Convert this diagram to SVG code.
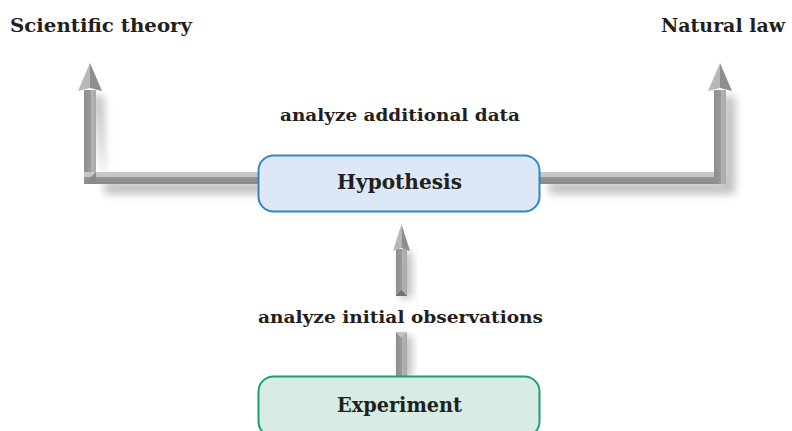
<svg xmlns="http://www.w3.org/2000/svg" width="792" height="431" viewBox="0 0 792 431">
<defs>
<style>
.lbl{font-family:"DejaVu Serif","Liberation Serif",serif;font-weight:bold;fill:#231f20}
.top{font-size:18px}
.mid{font-size:17px}
.node{font-size:20px}
</style>
<linearGradient id="vshaft" x1="0" y1="0" x2="1" y2="0">
<stop offset="0" stop-color="#8e8e8e"/><stop offset="0.55" stop-color="#9a9a9a"/><stop offset="0.6" stop-color="#b4b4b4"/><stop offset="1" stop-color="#a8a8a8"/>
</linearGradient>
<linearGradient id="hbar" x1="0" y1="0" x2="0" y2="1">
<stop offset="0" stop-color="#c9c9c9"/><stop offset="0.4" stop-color="#c4c4c4"/><stop offset="0.45" stop-color="#959595"/><stop offset="1" stop-color="#8a8a8a"/>
</linearGradient>
<filter id="sh" x="-50%" y="-20%" width="200%" height="140%">
<feGaussianBlur stdDeviation="4"/>
</filter>
</defs>
<g id="connectors">
<g id="left-arrow">
<path d="M88 92 L100 92 L100 190 L262 190 L262 178 L100 178 Z" fill="#000" opacity="0.25" filter="url(#sh)" transform="translate(4,4)"/>
<rect x="84" y="90" width="12" height="94" fill="url(#vshaft)"/>
<rect x="84" y="172" width="175" height="12" fill="url(#hbar)"/>
<polygon points="84,184 96,172 96,184" fill="#8a8a8a"/>
<polygon points="90,63 78,91 90,88" fill="#b8b8b8"/>
<polygon points="90,63 102,91 90,88" fill="#8e8e8e"/>
</g>
<g id="right-arrow">
<path d="M719 92 L731 92 L731 190 L545 190 L545 178 L719 178 Z" fill="#000" opacity="0.25" filter="url(#sh)" transform="translate(4,4)"/>
<rect x="714" y="90" width="12" height="94" fill="url(#vshaft)"/>
<rect x="540" y="172" width="180" height="12" fill="url(#hbar)"/>
<rect x="714" y="172" width="12" height="12" fill="url(#vshaft)"/>
<polygon points="720,63 708,91 720,88" fill="#b8b8b8"/>
<polygon points="720,63 732,91 720,88" fill="#8e8e8e"/>
</g>
<g id="center-arrow">
<rect x="400" y="252" width="12" height="46" fill="#000" opacity="0.25" filter="url(#sh)"/>
<rect x="396" y="249" width="11" height="47" fill="url(#vshaft)"/>
<polygon points="396,296 401.5,290 407,296" fill="#6f6f6f"/>
<polygon points="401.5,224 393,251 401.5,248" fill="#b8b8b8"/>
<polygon points="401.5,224 410,251 401.5,248" fill="#8e8e8e"/>
<rect x="400" y="336" width="12" height="42" fill="#000" opacity="0.25" filter="url(#sh)"/>
<rect x="396" y="332" width="11" height="46" fill="url(#vshaft)"/>
<polygon points="396,332 401.5,338 407,332" fill="#c4c4c4"/>
</g>
</g>
<g id="hypothesis">
<rect x="258.5" y="155.5" width="281" height="56" rx="15" fill="#dce8f5" stroke="#3484c4" stroke-width="2"/>
<text class="lbl node" x="337" y="189" textLength="125" lengthAdjust="spacingAndGlyphs">Hypothesis</text>
</g>
<g id="experiment">
<rect x="258.5" y="376.5" width="281" height="60" rx="15" fill="#d7ece3" stroke="#1c9e74" stroke-width="2"/>
<text class="lbl node" x="337" y="412" textLength="125" lengthAdjust="spacingAndGlyphs">Experiment</text>
</g>
<g id="labels">
<text class="lbl top" x="10" y="32" textLength="182" lengthAdjust="spacingAndGlyphs">Scientific theory</text>
<text class="lbl top" x="661" y="32" textLength="124" lengthAdjust="spacingAndGlyphs">Natural law</text>
<text class="lbl mid" x="280" y="121" textLength="240" lengthAdjust="spacingAndGlyphs">analyze additional data</text>
<text class="lbl mid" x="258" y="323" textLength="285" lengthAdjust="spacingAndGlyphs">analyze initial observations</text>
</g>
</svg>
